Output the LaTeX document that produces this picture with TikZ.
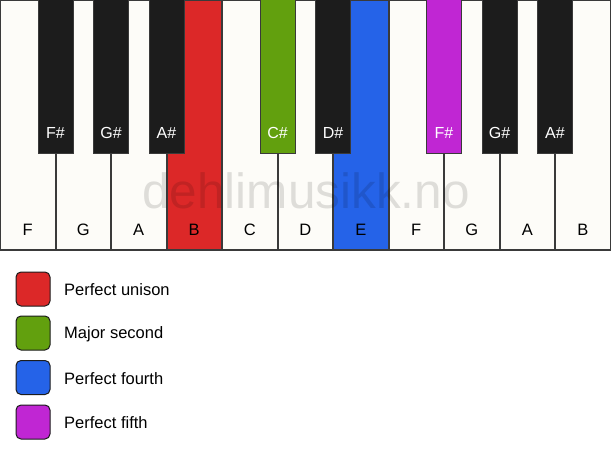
\documentclass[tikz,border=0pt]{standalone}
\usepackage{fontspec}
\setmainfont{Liberation Sans}
\definecolor{wkey}{HTML}{FDFCF8}
\definecolor{bkey}{HTML}{1C1C1C}
\definecolor{cred}{HTML}{DC2828}
\definecolor{cgreen}{HTML}{62A00E}
\definecolor{cblue}{HTML}{2563E8}
\definecolor{cpurple}{HTML}{C026D3}
\definecolor{edge}{HTML}{3A3A3A}
\begin{document}
\begin{tikzpicture}[x=1pt,y=-1pt,
  whitekey/.style={draw=edge,line width=1.2pt,fill=wkey},
  blackkey/.style={draw=edge,line width=0.8pt,fill=bkey},
  wlabel/.style={font=\fontsize{16.5}{17}\selectfont,text=black},
  blabel/.style={font=\fontsize{16}{17}\selectfont,text=white},
  legbox/.style={draw=bkey,line width=1pt,rounded corners=5pt,minimum width=34pt,minimum height=34pt,inner sep=0pt},
  legtext/.style={font=\fontsize{16.5}{17}\selectfont,anchor=west,inner sep=0pt}]
\useasboundingbox (0,0) rectangle (611,461);
\fill[white] (0,0) rectangle (611,461);
% white keys
\foreach \n/\c [count=\i from 0] in {F/wkey,G/wkey,A/wkey,B/cred,C/wkey,D/wkey,E/cblue,F/wkey,G/wkey,A/wkey,B/wkey}{
  \path[whitekey,fill=\c] ({\i*55.5+0.6},0.6) rectangle ({(\i+1)*55.5-0.1},250);
  \node[wlabel] (w\i) at ({\i*55.5+27.75},230) {\n};
}
% watermark
\node[font=\fontsize{49.5}{50}\selectfont,text=black,text opacity=0.12] (wm) at (306,191) {dehlimusikk.no};
% black keys
\foreach \n/\b/\c in {F\#/1/bkey,G\#/2/bkey,A\#/3/bkey,C\#/5/cgreen,D\#/6/bkey,F\#/8/cpurple,G\#/9/bkey,A\#/10/bkey}{
  \path[blackkey,fill=\c] ({\b*55.5-17.5},-1) rectangle ({\b*55.5+17.5},153);
  \node[blabel] (b\b) at ({\b*55.5},133) {\n};
}
% legend
\node[legbox,fill=cred] (l1) at (33,289) {};
\node[legbox,fill=cgreen] (l2) at (33,333) {};
\node[legbox,fill=cblue] (l3) at (33,377.5) {};
\node[legbox,fill=cpurple] (l4) at (33,422) {};
\node[legtext] (t1) at (64,290) {Perfect unison};
\node[legtext] (t2) at (64,334) {Major second};
\node[legtext] (t3) at (64,379) {Perfect fourth};
\node[legtext] (t4) at (64,423) {Perfect fifth};
\end{tikzpicture}
\end{document}
